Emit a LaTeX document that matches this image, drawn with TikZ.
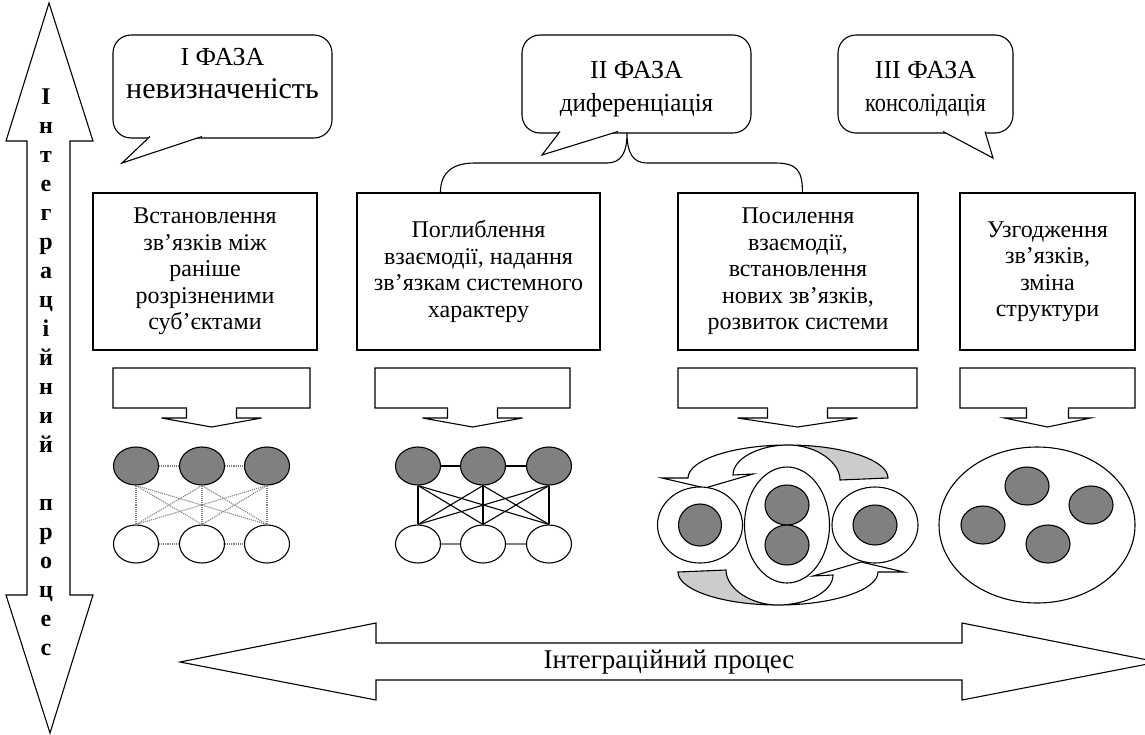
\documentclass[tikz,border=0pt]{standalone}
\usepackage{fontspec}
\usepackage{graphicx}
\setmainfont{Liberation Serif}
\usetikzlibrary{shapes.geometric,positioning,calc}
\definecolor{coregray}{gray}{0.5}
\definecolor{backgray}{gray}{0.8}
\definecolor{linkgray}{gray}{0.5}

\begin{document}
\begin{tikzpicture}[
    x=1pt, y=-1pt,
    every path/.style={line width=1.1pt},
    bubble/.style={draw, fill=white, rounded corners=18pt, inner sep=0pt},
    phasetext/.style={align=center, inner sep=0pt, font=\fontsize{26}{33}\selectfont},
    stepbox/.style={draw, align=center, inner sep=0pt, minimum height=157pt, font=\fontsize{24}{26.5}\selectfont},
    core/.style={ellipse, draw, fill=coregray, inner sep=0pt, minimum width=45pt, minimum height=38pt},
    hollow/.style={ellipse, draw, fill=white, inner sep=0pt, minimum width=45pt, minimum height=38pt},
    ring/.style={ellipse, draw, fill=white, inner sep=0pt},
    weaklink/.style={color=linkgray, densely dotted},
    firmlink/.style={color=black},
    softlink/.style={color=linkgray, line width=1.6pt}
  ]
  \useasboundingbox (0,0) rectangle (1145,734);

  % vertical process arrow
  \draw (49,3) -- (93,141) -- (70,141) -- (70,595) -- (93,595) -- (50,733) -- (6,595) -- (27,595) -- (27,141) -- (6,141) -- cycle;
  \node[align=center, inner sep=0pt, font=\bfseries\fontsize{24}{29}\selectfont] (vproc) at (46,372)
    {І\\н\\т\\е\\г\\р\\а\\ц\\і\\й\\н\\и\\й\\[29pt]п\\р\\о\\ц\\е\\с};

  % phases
  \node[bubble, minimum width=219pt, minimum height=103pt] (ph1) at (222.5,86.5) {};
  \draw[fill=white] (150,136.5) -- (122,163) -- (202,136.5);
  \node[phasetext, font=\fontsize{30}{33}\selectfont, below=13pt of ph1.north] (ph1txt) {{\fontsize{26}{33}\selectfont I ФАЗА}\\невизначеність};

  \node[bubble, minimum width=229pt, minimum height=98pt] (ph2) at (636.5,84) {};
  \draw[fill=white] (560,131.5) -- (542,155) -- (618,131.5);
  \node[phasetext, below=26pt of ph2.north] (ph2txt) {II ФАЗА\\\scalebox{0.96}[1]{диференціація}};

  \node[bubble, minimum width=175pt, minimum height=98pt] (ph3) at (925.5,84) {};
  \draw[fill=white] (943,131.5) -- (993,158) -- (985,131.5);
  \node[phasetext, below=26pt of ph3.north] (ph3txt) {III ФАЗА\\\scalebox{0.86}[1]{консолідація}};

  % step boxes
  \node[stepbox, minimum width=224pt] (box1) at (205,271.5) {Встановлення\\зв’язків між\\раніше\\розрізненими\\суб’єктами};
  \node[stepbox, minimum width=243pt] (box2) at (478.5,271.5) {Поглиблення\\взаємодії, надання\\зв’язкам системного\\характеру};
  \node[stepbox, minimum width=240pt] (box3) at (798,271.5) {Посилення\\взаємодії,\\встановлення\\нових зв’язків,\\розвиток системи};
  \node[stepbox, minimum width=175pt] (box4) at (1047.5,271.5) {Узгодження\\зв’язків,\\зміна\\структури};

  % brace of phase II
  \coordinate (cusp) at (627,133);
  \coordinate (b2top) at ($(box2.north west)+(84,0)$);
  \coordinate (b3top) at ($(box3.north west)+(125,0)$);
  \draw (b2top) .. controls +(0,-22) and +(-20,0) .. (475,163) -- (607,163)
    .. controls +(14,0) and +(0,20) .. (cusp)
    .. controls +(0,20) and +(-14,0) .. (647,163) -- (775,163)
    .. controls +(22,0) and +(0,-22) .. (b3top);

  % block arrows under the boxes
  \foreach \l/\r/\n/\w in {113/310/25/50, 375/570/25/50, 678/917/30/60, 960/1135/21/43}{
    \pgfmathsetmacro\m{(\l+\r)/2}
    \draw (\l,368) -- (\r,368) -- (\r,408) -- ({\m+\n},408) -- ({\m+\n},418) -- ({\m+\w},418)
      -- (\m,427) -- ({\m-\w},418) -- ({\m-\n},418) -- ({\m-\n},408) -- (\l,408) -- cycle;
  }

  % network 1: loose links
  \foreach \x [count=\i] in {136,202,267}{
    \node[core] (a\i) at (\x,466) {};
    \node[hollow] (b\i) at (\x,544) {};
  }
  \foreach \i in {1,2,3}
    \foreach \j in {1,2,3}
      \path[weaklink] (a\i.south) edge (b\j.north);
  \path[weaklink] (a1) edge (a2) (a2) edge (a3) (b1) edge (b2) (b2) edge (b3);

  % network 2: firm links
  \foreach \x [count=\i] in {418,483,549}{
    \node[core] (c\i) at (\x,466) {};
    \node[hollow] (d\i) at (\x,544) {};
  }
  \foreach \i in {1,2,3}
    \foreach \j in {1,2,3}
      \path[firmlink] (c\i.south) edge (d\j.north);
  \path[firmlink] (c1) edge (c2) (c2) edge (c3);
  \path[softlink] (d1) edge (d2) (d2) edge (d3);

  % network 3: turning arrows and rings
  \foreach \turn in {0,180}{
    \begin{scope}[rotate around={\turn:(783,525)}]
      \draw[fill=white] (662,478) -- (688,478) .. controls (688,460) and (733,445) .. (788,445)
        .. controls (760,445) and (733,458) .. (733,475) -- (753,474) -- (705,488) -- cycle;
      \draw[fill=backgray] (788,445) .. controls (843,445) and (888,460) .. (888,478) -- (840,480)
        .. controls (840,462) and (816,445) .. (788,445) -- cycle;
    \end{scope}
  }
  \node[ring, minimum width=85pt, minimum height=76pt] (lring) at (700,525) {};
  \node[core, minimum width=43pt, minimum height=42pt] (lcore) at (700,525) {};
  \node[ring, minimum width=85pt, minimum height=116pt] (mring) at (787,525) {};
  \node[core, minimum width=44pt, minimum height=40pt] (mcore1) at (787,505) {};
  \node[core, minimum width=44pt, minimum height=40pt] (mcore2) at (787,545) {};
  \node[ring, minimum width=86pt, minimum height=76pt] (rring) at (875,525) {};
  \node[core, minimum width=44pt, minimum height=40pt] (rcore) at (875,525) {};

  % network 4: one system
  \node[ring, minimum width=196pt, minimum height=156pt] (whole) at (1037,525) {};
  \node[core, minimum width=44pt] (k1) at (1027,486) {};
  \node[core, minimum width=44pt] (k2) at (1091,505) {};
  \node[core, minimum width=44pt] (k3) at (983,525) {};
  \node[core, minimum width=44pt] (k4) at (1048,544) {};

  % horizontal process arrow
  \draw (180,662) -- (376,623) -- (376,643) -- (962,643) -- (962,623) -- (1158,662)
    -- (962,700) -- (962,680) -- (376,680) -- (376,700) -- cycle;
  \node[inner sep=0pt, font=\fontsize{27}{30}\selectfont] (hproc) at (669,662) {Інтеграційний процес};
\end{tikzpicture}
\end{document}
